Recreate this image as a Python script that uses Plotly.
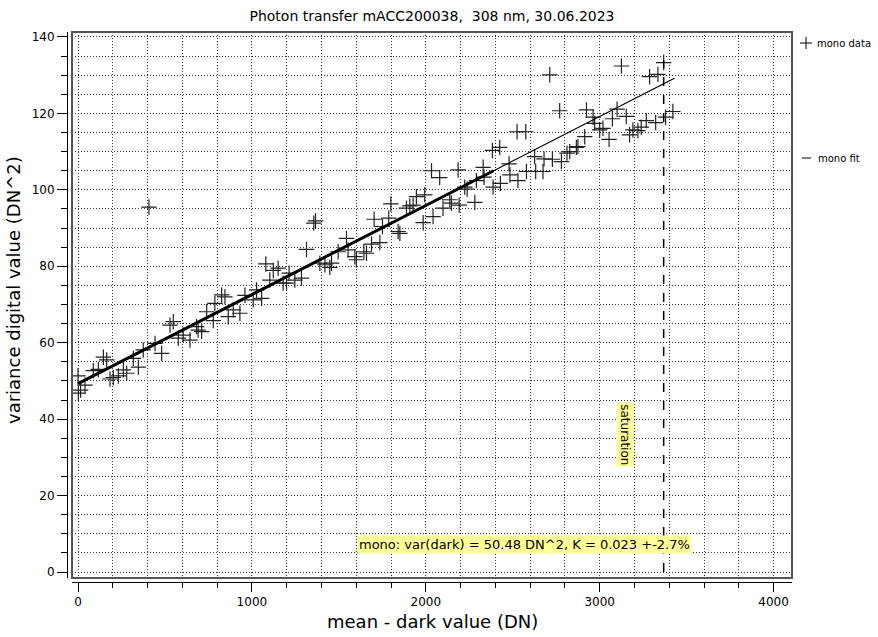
import plotly.graph_objects as go

# ---------------- data ----------------
mean_dn = [0, 2, 15, 40, 88, 117, 146, 165, 184, 203, 232, 261, 280, 318, 347, 375, 408, 443, 481,
           529, 548, 577, 605, 644, 682, 691, 711, 740, 778, 787, 826, 845, 864, 893, 931, 960,
           1008, 1027, 1056, 1080, 1103, 1123, 1151, 1180, 1199, 1214, 1247, 1285, 1314, 1356,
           1366, 1391, 1420, 1448, 1458, 1496, 1544, 1553, 1592, 1601, 1644, 1659, 1688, 1703,
           1736, 1751, 1787, 1799, 1841, 1851, 1889, 1908, 1927, 1946, 1985, 1994, 2033, 2042,
           2080, 2099, 2138, 2147, 2186, 2192, 2224, 2238, 2282, 2291, 2330, 2335, 2383, 2387,
           2425, 2429, 2479, 2484, 2525, 2530, 2575, 2579, 2626, 2632, 2674, 2680, 2713, 2728,
           2770, 2780, 2812, 2828, 2866, 2875, 2914, 2924, 2962, 2971, 3000, 3019, 3054, 3073,
           3100, 3125, 3153, 3172, 3191, 3220, 3239, 3268, 3287, 3322, 3335, 3368, 3379, 3421]
variance = [51.3, 46.8, 47.6, 48.9, 52.7, 53.0, 56.2, 55.5, 50.5, 50.9, 51.3, 52.9, 52.0, 55.9, 53.6,
            58.1, 95.5, 59.8, 57.2, 64.6, 65.5, 61.2, 62.0, 60.7, 64.2, 63.3, 62.9, 68.1, 65.8,
            70.3, 72.5, 72.0, 66.8, 68.6, 67.7, 72.4, 71.2, 73.8, 71.6, 80.6, 76.4, 78.9, 79.5,
            75.6, 75.6, 78.2, 76.4, 76.9, 84.4, 91.3, 91.9, 80.8, 80.4, 79.7, 80.8, 83.8, 87.3,
            84.3, 82.5, 81.7, 83.8, 83.4, 85.8, 92.3, 86.2, 90.4, 92.6, 96.3, 89.1, 88.6, 95.2,
            95.8, 96.0, 98.2, 91.4, 98.7, 105.0, 93.0, 103.2, 95.2, 97.4, 96.5, 105.2, 96.0,
            100.7, 100.2, 96.7, 102.4, 105.9, 103.3, 110.3, 100.7, 111.1, 101.7, 106.8, 103.9,
            115.2, 102.4, 115.2, 104.8, 108.7, 104.8, 104.8, 108.1, 130.1, 108.0, 120.7, 107.4,
            109.6, 110.0, 111.1, 111.3, 113.9, 120.9, 119.0, 117.4, 115.7, 116.1, 113.2, 118.6,
            121.1, 132.4, 119.2, 114.4, 115.7, 115.5, 116.4, 118.1, 129.6, 117.6, 130.2, 133.3,
            119.0, 120.5]

fit_intercept = 49.3
fit_slope = 0.0233
fit_range_x = [0, 2390]      # fitted part (thick)
fit_full_x = [0, 3430]       # extended fit (thin)
saturation_x = 3368
saturation_y = [0, 134]

title_text = "Photon transfer mACC200038,  308 nm, 30.06.2023"
x_title = "mean - dark value (DN)"
y_title = "variance digital value (DN^2)"
fit_text = "mono: var(dark) = 50.48 DN^2, K = 0.023 +-2.7%"

# ---------------- layout geometry (pixels) ----------------
W, H = 878, 637
ML, MR, MT, MB = 60, 80, 30, 50
PW, PH = W - ML - MR, H - MT - MB


def pxx(px):
    return (px - ML) / PW


def pxy(py):
    return (H - MB - py) / PH


FONT = "DejaVu Sans"
yellow = "#ffff99"
grid_col = "#333333"
grid_dash = "1px,2px"

fig = go.Figure()

fig.add_trace(go.Scatter(
    x=mean_dn, y=variance, mode="markers",
    marker=dict(symbol="cross-thin", size=11, line=dict(width=1.2, color="#222222")),
    showlegend=False))

fig.add_trace(go.Scatter(
    x=fit_full_x, y=[fit_intercept + fit_slope * v for v in fit_full_x], mode="lines",
    line=dict(color="black", width=1.2), showlegend=False))
fig.add_trace(go.Scatter(
    x=fit_range_x, y=[fit_intercept + fit_slope * v for v in fit_range_x], mode="lines",
    line=dict(color="black", width=3), showlegend=False))

fig.add_trace(go.Scatter(
    x=[saturation_x, saturation_x], y=saturation_y, mode="lines",
    line=dict(color="black", width=1.5, dash="dash"), showlegend=False))

fig.update_layout(
    width=W, height=H,
    margin=dict(l=ML, r=MR, t=MT, b=MB),
    paper_bgcolor="white", plot_bgcolor="white",
    font=dict(family=FONT, size=12, color="black"),
    title=dict(text=title_text, x=432 / W, xref="container", xanchor="center",
               y=1 - 16 / H, yref="container", yanchor="middle",
               font=dict(family=FONT, size=14, color="black")),
    xaxis=dict(
        domain=[pxx(72), pxx(792)], range=[-34.5, 4106],
        anchor="free", position=pxy(582),
        tickmode="linear", tick0=0, dtick=1000,
        ticks="outside", ticklen=9, tickcolor="black", tickwidth=1,
        showline=True, linecolor="black", linewidth=1,
        showgrid=True, gridcolor=grid_col, griddash=grid_dash, gridwidth=1,
        zeroline=False,
        minor=dict(dtick=200, tick0=0, ticks="outside", ticklen=5, tickcolor="black",
                   showgrid=True, gridcolor=grid_col, griddash=grid_dash, gridwidth=1),
        tickfont=dict(size=12, family=FONT)),
    yaxis=dict(
        domain=[pxy(578), pxy(32)], range=[-1.57, 141.3],
        anchor="free", position=pxx(67),
        tickmode="linear", tick0=0, dtick=20,
        ticks="outside", ticklen=10, tickcolor="black", tickwidth=1,
        showline=True, linecolor="black", linewidth=1,
        showgrid=True, gridcolor=grid_col, griddash=grid_dash, gridwidth=1,
        zeroline=False,
        minor=dict(dtick=5, tick0=0, ticks="outside", ticklen=6, tickcolor="black",
                   showgrid=True, gridcolor=grid_col, griddash=grid_dash, gridwidth=1),
        tickfont=dict(size=12, family=FONT)),
)

shapes = [
    dict(type="rect", xref="x domain", yref="y domain", x0=0, x1=1, y0=0, y1=1,
         line=dict(color="#555555", width=2), layer="above"),
    # legend cross
    dict(type="line", xref="paper", yref="paper", x0=pxx(800), x1=pxx(812), y0=pxy(43), y1=pxy(43),
         line=dict(color="black", width=1)),
    dict(type="line", xref="paper", yref="paper", x0=pxx(806), x1=pxx(806), y0=pxy(37), y1=pxy(49),
         line=dict(color="black", width=1)),
    # legend dash
    dict(type="line", xref="paper", yref="paper", x0=pxx(802), x1=pxx(811), y0=pxy(158), y1=pxy(158),
         line=dict(color="black", width=1)),
]
fig.update_layout(shapes=shapes)

ann = [
    dict(text=x_title, xref="paper", yref="paper", x=pxx(432), y=pxy(621), showarrow=False,
         xanchor="center", yanchor="middle", font=dict(size=18, family=FONT)),
    dict(text=y_title, xref="paper", yref="paper", x=pxx(13), y=pxy(290), showarrow=False,
         textangle=-90, xanchor="center", yanchor="middle", font=dict(size=18, family=FONT)),
    dict(text="mono data", xref="paper", yref="paper", x=pxx(815), y=pxy(43), showarrow=False,
         xanchor="left", yanchor="middle", font=dict(size=10, family=FONT)),
    dict(text="mono fit", xref="paper", yref="paper", x=pxx(816), y=pxy(158), showarrow=False,
         xanchor="left", yanchor="middle", font=dict(size=10, family=FONT)),
    dict(text=fit_text, xref="x", yref="y", x=2569, y=7.3, showarrow=False,
         xanchor="center", yanchor="middle", bgcolor=yellow, borderpad=1,
         font=dict(size=13, family=FONT)),
    dict(text="saturation", xref="x", yref="y", x=3149, y=35.9, showarrow=False,
         textangle=90, xanchor="center", yanchor="middle", bgcolor=yellow, borderpad=1,
         font=dict(size=12, family=FONT)),
]
fig.update_layout(annotations=ann)

fig.write_html("out.html", config={"displayModeBar": False},
               post_script="document.body.style.margin='0';document.body.style.padding='0';")
